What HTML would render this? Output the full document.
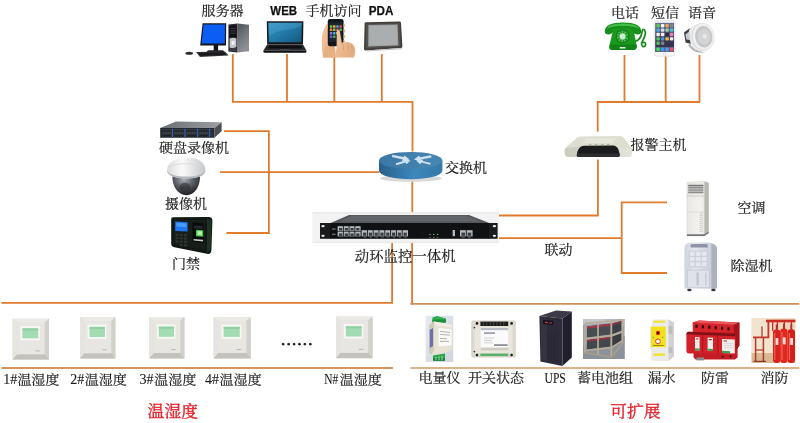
<!DOCTYPE html>
<html lang="zh-CN">
<head>
<meta charset="utf-8">
<title>动环监控系统拓扑图</title>
<style>
html,body{margin:0;padding:0;background:#fff;}
body{width:800px;height:423px;overflow:hidden;position:relative;}
svg{display:block;position:absolute;left:0;top:0;}
.t{font-family:"Liberation Serif","Noto Serif CJK SC",serif;font-size:14px;fill:#1c1c1c;stroke:#1c1c1c;stroke-width:.2px;transform-box:fill-box;transform-origin:50% 100%;transform:scaleY(.925);}
.b{font-family:"Liberation Sans","Noto Sans CJK SC",sans-serif;font-weight:bold;font-size:12.6px;fill:#111;stroke:#111;stroke-width:.25px;}
.r{font-family:"Liberation Serif","Noto Serif CJK SC",serif;font-size:16.8px;fill:#e3202a;stroke:#e3202a;stroke-width:.35px;transform-box:fill-box;transform-origin:50% 100%;transform:scaleY(.95);}
.ln{stroke:#e07b2e;stroke-width:1.8;fill:none;stroke-linejoin:miter;}
.ln2{stroke:#d98a4a;stroke-width:1.6;fill:none;}
</style>
</head>
<body>
<svg width="800" height="423" viewBox="0 0 800 423">
<rect width="800" height="423" fill="#fff"/>

<!-- ===== connection lines ===== -->
<g id="lines" style="filter:blur(.3px)">
<path class="ln" d="M232.800 54V101.800H412.500V151.600"/>
<path class="ln" d="M287 54V101.800"/>
<path class="ln" d="M334.300 48V101.800"/>
<path class="ln" d="M381.800 54V101.800"/>
<path class="ln" d="M412.300 179.600V212.600"/>
<path class="ln" d="M624.5 55V102M665.7 53V102M699.5 55V102"/>
<path class="ln" d="M700 102H597.700V131.400"/>
<path class="ln" d="M597.900 159.600V215.500H498.800"/>
<path class="ln" d="M498.800 238.200H621.700M667 202.400H621.700V273H667"/>
<path class="ln" d="M224 131.100H268.900V233H226.400"/>
<path class="ln" d="M220 172.100H379.400"/>
<path class="ln" d="M392.1 243V302.8H1.4"/>
<path class="ln" d="M412.1 243V304.4"/>
<path d="M410.4 303.8H799.4" stroke="#cd8f58" stroke-width="1.7" fill="none"/>
<path d="M1.4 368H393" stroke="#d9935c" stroke-width="1.8" fill="none"/>
<path d="M410.4 368H799.4" stroke="#cf9862" stroke-width="1.7" fill="none"/>
</g>

<!-- ===== labels ===== -->
<g id="labels" style="filter:blur(.3px)">
<text class="t" x="201.5" y="14.4">服务器</text>
<text class="b" x="270.3" y="14.8" textLength="26.8" lengthAdjust="spacingAndGlyphs">WEB</text>
<text class="t" x="305.5" y="14.4">手机访问</text>
<text class="b" x="368.8" y="14.8" textLength="24.6" lengthAdjust="spacingAndGlyphs">PDA</text>
<text class="t" x="611" y="16.6">电话</text>
<text class="t" x="651" y="16.6">短信</text>
<text class="t" x="688" y="16.6">语音</text>
<text class="t" x="159" y="151.6">硬盘录像机</text>
<text class="t" x="165" y="207.6">摄像机</text>
<text class="t" x="172" y="267.6">门禁</text>
<text class="t" x="445" y="171.6">交换机</text>
<text class="t" x="630.5" y="148.4">报警主机</text>
<text class="t" x="354.8" y="261.1" style="font-size:14.4px">动环监控一体机</text>
<text class="t" x="544.5" y="254.2">联动</text>
<text class="t" x="737.5" y="212.1">空调</text>
<text class="t" x="730.5" y="270.1">除湿机</text>
<text class="t" x="3.2" y="383.9" style="font-size:16px;stroke-width:.12px" textLength="14" lengthAdjust="spacingAndGlyphs">1#</text><text class="t" x="17.4" y="383.5">温湿度</text>
<text class="t" x="70.2" y="383.9" style="font-size:16px;stroke-width:.12px" textLength="14" lengthAdjust="spacingAndGlyphs">2#</text><text class="t" x="84.8" y="383.5">温湿度</text>
<text class="t" x="139.4" y="383.9" style="font-size:16px;stroke-width:.12px" textLength="14" lengthAdjust="spacingAndGlyphs">3#</text><text class="t" x="154.2" y="383.5">温湿度</text>
<text class="t" x="205" y="383.9" style="font-size:16px;stroke-width:.12px" textLength="14" lengthAdjust="spacingAndGlyphs">4#</text><text class="t" x="219.6" y="383.5">温湿度</text>
<text class="t" x="324.3" y="383.9" style="font-size:16px;stroke-width:.12px" textLength="14" lengthAdjust="spacingAndGlyphs">N#</text><text class="t" x="339.8" y="383.5">温湿度</text>
<text class="t" x="280.4" y="344.7" style="font-size:16.3px;stroke-width:.9px;stroke-linejoin:round">……</text>
<text class="t" x="418.5" y="382.2">电量仪</text>
<text class="t" x="468" y="382.2">开关状态</text>
<text class="t" x="544.6" y="382.6" style="font-size:16.4px;stroke-width:.15px" textLength="21.2" lengthAdjust="spacingAndGlyphs">UPS</text>
<text class="t" x="577" y="382.2">蓄电池组</text>
<text class="t" x="647.5" y="382.2">漏水</text>
<text class="t" x="701" y="382.2">防雷</text>
<text class="t" x="760.5" y="382.2">消防</text>
<text class="r" x="147.6" y="416.8">温湿度</text>
<text class="r" x="610.2" y="416.8">可扩展</text>
</g>

<!-- ===== devices ===== -->
<g id="devices" style="filter:blur(.35px)">

<!-- server PC -->
<g id="pc">
<defs><linearGradient id="twr" x1="0" y1="0" x2=".4" y2="1"><stop offset="0" stop-color="#505258"/><stop offset=".6" stop-color="#787a81"/><stop offset="1" stop-color="#8f9197"/></linearGradient></defs>
<ellipse cx="189.200" cy="53.200" rx="3.800" ry="1.500" fill="#2b2b2e"/>
<path d="M196 52L225 51.400L228.600 55.400L200 57Z" fill="#3a3a3e"/>
<path d="M197.800 52.800L224 52.200L226.400 54.800L200.800 56Z" fill="#1a1a1e"/>
<rect x="213.700" y="45" width="4.400" height="6" fill="#121218"/>
<path d="M208 50.200H223L224.400 52H206.600Z" fill="#26262a"/>
<path d="M202.600 23.200H226.200L226 45.400H200.200Z" fill="#15171d"/>
<path d="M203.600 24.600H225L224.800 43.400H201.600Z" fill="#0b5df4"/>
<path d="M228.400 24.400L237.600 23.600V52.400L228.400 51.600Z" fill="#25272c"/>
<path d="M237.600 23.600L249 24.800V51.200L237.600 52.400Z" fill="url(#twr)"/>
<path d="M229.600 26L236.400 25.400V37L229.600 37.400Z" fill="#0f1013"/>
<path d="M229.600 38.600Q233 37 236.400 38.400V47Q233 48.600 229.600 47.400Z" fill="#c3c6cc"/>
<path d="M229.600 48.200L236.400 48V51.400L229.600 50.800Z" fill="#3c3e45"/>
<path d="M230.400 28.400H235.600M230.400 30.800H235.600M230.400 33.200H235.600" stroke="#54565e" stroke-width=".7"/>
<path d="M231.600 41.400L234.400 40.400V44.400L231.600 45Z" fill="#f2f3f5"/>
</g>

<!-- laptop -->
<g id="laptop">
<defs><linearGradient id="lapscr" x1="0" y1="0" x2="1" y2="1"><stop offset="0" stop-color="#3b97c6"/><stop offset=".5" stop-color="#2279a8"/><stop offset="1" stop-color="#15587f"/></linearGradient></defs>
<path d="M266.800 21.200H303.400L303 44.400H267.200Z" fill="#16171a"/>
<path d="M268.400 22.800H301.800L301.400 42.200H268.800Z" fill="url(#lapscr)"/>
<path d="M268.600 36C279 29 290 31 301.600 25.600V22.800H268.400Z" fill="#52a9d4" opacity=".35"/>
<path d="M267.200 44.400H303L306.400 50.600H263.400Z" fill="#2a2b2f"/>
<path d="M269.400 45.400H300.800L303 48.600H267.400Z" fill="#0d0e10"/>
<path d="M263.400 50.600H306.400V51.800Q306.400 52.800 305 52.800H264.800Q263.400 52.800 263.400 51.800Z" fill="#0e0f11"/>
<rect x="279.600" y="49" width="11" height="1.300" fill="#404146"/>
</g>

<!-- phone in hand -->
<g id="handphone">
<defs><linearGradient id="skin" x1="0" y1="0" x2="1" y2="1"><stop offset="0" stop-color="#f3c9a2"/><stop offset="1" stop-color="#e3a878"/></linearGradient></defs>
<path d="M328.400 22.600C324 27 321.600 34 321.800 42C322 49 322.400 54 323 57.400H336L334.400 45.600L329 41Z" fill="url(#skin)"/>
<path d="M323 57.400C323.200 51 324.600 47 328.400 44.600L335 47.600V57.400Z" fill="#e6b083"/>
<rect x="327.800" y="19" width="15.800" height="27.200" rx="2.300" fill="#15161a"/>
<rect x="329.200" y="22.200" width="13" height="19.600" fill="#1d2630"/>
<g>
<rect x="329.800" y="25.200" width="2.500" height="2.500" rx=".5" fill="#7bc043"/>
<rect x="333" y="25.200" width="2.500" height="2.500" rx=".5" fill="#f0b429"/>
<rect x="336.200" y="25.200" width="2.500" height="2.500" rx=".5" fill="#4aa3df"/>
<rect x="339.400" y="25.200" width="2.500" height="2.500" rx=".5" fill="#d9534f"/>
<rect x="329.800" y="28.600" width="2.500" height="2.500" rx=".5" fill="#f0883e"/>
<rect x="333" y="28.600" width="2.500" height="2.500" rx=".5" fill="#8bc34a"/>
<rect x="336.200" y="28.600" width="2.500" height="2.500" rx=".5" fill="#e04f5f"/>
<rect x="339.400" y="28.600" width="2.500" height="2.500" rx=".5" fill="#5cb85c"/>
<rect x="329.800" y="32" width="2.500" height="2.500" rx=".5" fill="#a06cd5"/>
<rect x="333" y="32" width="2.500" height="2.500" rx=".5" fill="#39b0d8"/>
<rect x="336.200" y="32" width="2.500" height="2.500" rx=".5" fill="#f2c94c"/>
<rect x="329.800" y="35.400" width="2.500" height="2.500" rx=".5" fill="#6a5acd"/>
<rect x="333" y="35.400" width="2.500" height="2.500" rx=".5" fill="#4caf50"/>
</g>
<path d="M343.600 23.600C345.800 24.200 346 26.800 343.600 27.400ZM343.600 29C346 29.600 346.200 32.400 343.600 33ZM343.600 34.600C345.800 35.200 346 38 343.600 38.600ZM343.600 40C345.400 40.400 345.600 42.600 343.600 43Z" fill="#ebb88c"/>
<path d="M327.800 24C325.600 25 325.400 28 327.800 29Z" fill="#ebb88c"/>
<path d="M336.800 30.400C338.400 29.600 339.800 30.400 340 32.200L341.800 42.800C346.600 41 352.600 42.400 354.400 46.200C355.800 49.400 355.400 53.600 353.800 57.400H335.400L336.600 46Z" fill="url(#skin)"/>
<path d="M341.800 42.800C343.400 44.600 344 47.400 343.200 50M346.800 43C348.400 45 348.800 47.800 348 50.600M351 44.400C352.400 46.400 352.600 49 351.800 51.400" stroke="#cf976b" stroke-width=".7" fill="none"/>
</g>

<!-- PDA / tablet -->
<g id="pda">
<path d="M364.600 23.600Q364.600 22.200 366 22.200L399.600 21.600Q401 21.600 401 23L402.400 46.400Q402.400 47.800 401 48L365.400 50.400Q364 50.400 364 49Z" fill="#433f3d"/>
<path d="M366.200 23.800L399.400 23.200L400.600 46.200L365.800 48.600Z" fill="#55514e"/>
<path d="M368.400 25L397.600 24.600L398.400 45.600L368.200 46.600Z" fill="#9fa2a2"/>
<path d="M369.400 26L396.600 25.600L397.200 44.600L369.200 45.400Z" fill="#abaeae"/>
<path d="M366 50.400L401.600 48V49.200L367 51.400Z" fill="#c9c7c5"/>
</g>

<!-- green telephone -->
<g id="tel">
<path d="M635 41.400C640 40 641.600 36 642 31.600C642.400 28.600 644.400 28.600 645.200 31.600C646.400 36 642.600 39.600 641.600 43C641 46 643.600 47.600 645.200 45.600C646.600 43.600 644.600 41.600 643 42.600" stroke="#158a1c" stroke-width="1.700" fill="none" stroke-linecap="round"/>
<path d="M615.600 27H631.400Q633 27 633.400 28.600L636.600 45.600Q637 50 633 50H612.600Q608.800 50 609.400 45.600L613.400 28.600Q613.800 27 615.600 27Z" fill="#1c981f"/>
<path d="M610 44.600H636.400L636.800 46.600Q637 50 633 50H612.600Q608.800 50 609.400 46.600Z" fill="#118216"/>
<path d="M604.800 31.600C604.800 25.600 611 22.600 623 22.600C635 22.600 641.200 25.600 641.200 31.600C641.200 34 639.400 34.600 636.800 34.400C633.600 34 632.800 32 632.600 29.600C628.600 28.200 617.400 28.200 613.400 29.600C613.200 32 612.400 34 609.200 34.400C606.600 34.600 604.800 34 604.800 31.600Z" fill="#17901b"/>
<path d="M607 28.400C609 24.800 615 23.800 623 23.800C631 23.800 637 24.800 639.200 28.400C635 26.400 629 26 623 26C617 26 611 26.400 607 28.400Z" fill="#45bd49"/>
<circle cx="622.600" cy="36.400" r="7" fill="#0f7a14"/>
<circle cx="622.600" cy="36.400" r="5.800" fill="#5cc063"/>
<circle cx="622.600" cy="36.400" r="4.600" fill="none" stroke="#1b8f22" stroke-width="2.200" stroke-dasharray="1.500 1.200"/>
<circle cx="622.600" cy="36.400" r="2.800" fill="#cfe9d2"/>
<rect x="619.600" y="47" width="6" height="1.600" rx=".6" fill="#e2f3e3"/>
</g>

<!-- iPhone -->
<g id="iphone">
<defs><linearGradient id="ipscr" x1="0" y1="0" x2="0" y2="1"><stop offset="0" stop-color="#6d7396"/><stop offset=".55" stop-color="#3d3a58"/><stop offset="1" stop-color="#2b2a40"/></linearGradient></defs>
<rect x="654.200" y="20.600" width="20.800" height="35.600" rx="3" fill="#f7f7f7" stroke="#dcdcdc" stroke-width=".7"/>
<rect x="655.200" y="22.800" width="18.800" height="29" fill="url(#ipscr)"/>
<g>
<rect x="656.400" y="24" width="3.400" height="3.400" rx=".8" fill="#5ac85a"/><rect x="660.900" y="24" width="3.400" height="3.400" rx=".8" fill="#f4f4f4"/><rect x="665.400" y="24" width="3.400" height="3.400" rx=".8" fill="#e9a94b"/><rect x="669.900" y="24" width="3.400" height="3.400" rx=".8" fill="#7d8290"/>
<rect x="656.400" y="28.400" width="3.400" height="3.400" rx=".8" fill="#4aa8e8"/><rect x="660.900" y="28.400" width="3.400" height="3.400" rx=".8" fill="#dcdce2"/><rect x="665.400" y="28.400" width="3.400" height="3.400" rx=".8" fill="#9ad0a0"/><rect x="669.900" y="28.400" width="3.400" height="3.400" rx=".8" fill="#4cc0c8"/>
<rect x="656.400" y="32.800" width="3.400" height="3.400" rx=".8" fill="#f0f0f0"/><rect x="660.900" y="32.800" width="3.400" height="3.400" rx=".8" fill="#f0f0f0"/><rect x="665.400" y="32.800" width="3.400" height="3.400" rx=".8" fill="#2d2d35"/><rect x="669.900" y="32.800" width="3.400" height="3.400" rx=".8" fill="#e87fc0"/>
<rect x="656.400" y="37.200" width="3.400" height="3.400" rx=".8" fill="#56c568"/><rect x="660.900" y="37.200" width="3.400" height="3.400" rx=".8" fill="#4a90e2"/><rect x="665.400" y="37.200" width="3.400" height="3.400" rx=".8" fill="#f5b840"/><rect x="669.900" y="37.200" width="3.400" height="3.400" rx=".8" fill="#f0f0f0"/>
<rect x="656.400" y="41.600" width="3.400" height="3.400" rx=".8" fill="#4fbf5a"/><rect x="660.900" y="41.600" width="3.400" height="3.400" rx=".8" fill="#7a7f8c"/>
<rect x="655.200" y="46.800" width="18.800" height="5" fill="#8087a3" opacity=".5"/>
<rect x="656.400" y="47.600" width="3.400" height="3.400" rx=".8" fill="#4cd964"/><rect x="660.900" y="47.600" width="3.400" height="3.400" rx=".8" fill="#3b99fc"/><rect x="665.400" y="47.600" width="3.400" height="3.400" rx=".8" fill="#4a9ef2"/><rect x="669.900" y="47.600" width="3.400" height="3.400" rx=".8" fill="#f0506e"/>
</g>
<circle cx="664.600" cy="54" r="1.300" fill="#f4f4f4" stroke="#cfcfcf" stroke-width=".5"/>
</g>

<!-- ceiling speaker -->
<g id="speaker">
<path d="M684 32.600L689.400 28.600L693 30L691.400 44L685.600 42.400Z" fill="#3b3e42"/>
<path d="M685.400 34.600L689 31.400L690 40L686.400 39.600Z" fill="#c9ccd0"/>
<path d="M689 30C689 44 692 50 700 52.600L706 50V24L694 25Z" fill="#e9e9e9"/>
<path d="M688 45C692 52 700 54.400 708 51.600C700 53 693 50 690 43.600Z" fill="#b4b5b6"/>
<ellipse cx="703" cy="36.800" rx="11.400" ry="14" fill="#dcdddd" transform="rotate(-8 703 36.800)"/>
<ellipse cx="703.400" cy="36.600" rx="10.600" ry="13.200" fill="#f0f0f0" transform="rotate(-8 703.400 36.600)"/>
<ellipse cx="703.800" cy="36.800" rx="8.600" ry="10.800" fill="#c6c7c8" transform="rotate(-8 703.800 36.800)"/>
<ellipse cx="704" cy="36.800" rx="6.400" ry="8" fill="#d3d4d5" transform="rotate(-8 704 36.800)"/>
<ellipse cx="704.600" cy="36.400" rx="2" ry="2.400" fill="#e9e9ea"/>
</g>

<!-- alarm host -->
<g id="alarm">
<defs><linearGradient id="alg" x1="0" x2="1"><stop offset="0" stop-color="#c9cbbd"/><stop offset=".5" stop-color="#d7d8cb"/><stop offset="1" stop-color="#e3e4da"/></linearGradient></defs>
<path d="M580 136.800L620.400 136.200Q622.600 136.200 624 138L631.600 148.600Q632.400 150 632.200 151.600L631.600 155.400Q631.200 157 629 157H568Q565.400 157 565 154.600L564.600 150.600Q564.600 149 565.600 148L577 138Q578.400 136.800 580 136.800Z" fill="url(#alg)"/>
<path d="M580 136.800L620.400 136.200Q622.600 136.200 624 138L631.600 148.600L612 146L584 146L565.600 148L577 138Q578.400 136.800 580 136.800Z" fill="#dddecf"/>
<path d="M586 138.400L616 138L613 143L584.600 143.200Q583.600 141 586 138.400Z" fill="#e6e7db"/>
<path d="M577.600 151Q579.600 145.800 584.600 145.800L612.600 145.600Q617.200 145.800 618.600 150L619.800 154.600Q620 157 617.600 157H579Q576.400 157 576.800 154.600Z" fill="#1b1c1e"/>
<path d="M578 153.600H619.400L619.800 155Q620 157 617.600 157H579Q576.400 157 576.800 155Z" fill="#2d2e30"/>
<path d="M589 144.400H591.400M595 144.400H597.400M601 144.400H603.400M607 144.400H609.400" stroke="#a3a497" stroke-width=".9"/>
</g>

<!-- switch (router icon) -->
<g id="switch">
<defs>
<linearGradient id="swside" x1="0" x2="1" y1="0" y2="0"><stop offset="0" stop-color="#275f8c"/><stop offset=".55" stop-color="#3d87bb"/><stop offset="1" stop-color="#3479a9"/></linearGradient>
<linearGradient id="swtop" x1="0" x2="1" y1="0" y2="0"><stop offset="0" stop-color="#3b78a5"/><stop offset="1" stop-color="#4787b4"/></linearGradient>
</defs>
<ellipse cx="411" cy="178.400" rx="31" ry="3.400" fill="#d9d9d9"/>
<path d="M379 160.400V170.600A31.700 8.600 0 0 0 442.400 170.600V160.400Z" fill="url(#swside)"/>
<ellipse cx="410.700" cy="160.400" rx="31.700" ry="8.500" fill="url(#swtop)"/>
<g fill="#cfe3ef">
<path d="M392.400 154.800L403.600 157L404.600 155.400L409.600 159.400L401.800 161.200L402.800 159.400L391.800 157Z"/>
<path d="M431 155.200L420 157.200L419 155.600L414 159.600L421.800 161.400L420.800 159.600L431.600 157.400Z"/>
<path d="M396.400 165.200L405.400 162.600L406.400 164.200L410.600 160.400L403.200 159.200L404.200 160.800L395.800 163.200Z"/>
<path d="M430.200 164.800L421.200 162.600L420.200 164.200L416 160.600L423.400 159.400L422.400 161L430.800 163Z"/>
</g>
</g>

<!-- main monitoring host (1U rack device) -->
<g id="host">
<rect x="312.400" y="212.400" width="186.400" height="30.400" fill="#f2f2f2"/>
<rect x="312.400" y="212.400" width="186.400" height="1" fill="#e4e4e4"/>
<rect x="312.400" y="241.800" width="186.400" height="1" fill="#e6e6e6"/>
<path d="M349 215H469L490 223.200H330Z" fill="#54575b"/>
<path d="M352 215.800H466L480 221.600H340Z" fill="#62656a"/>
<rect x="320" y="223" width="10.400" height="15.800" fill="#1a1b1d"/>
<rect x="488.600" y="223" width="9" height="15.800" fill="#1a1b1d"/>
<rect x="330" y="223" width="159" height="15.800" fill="#101113"/>
<ellipse cx="323" cy="226.200" rx="1.700" ry="1.100" fill="#efefef"/><ellipse cx="323" cy="235.800" rx="1.700" ry="1.100" fill="#efefef"/>
<ellipse cx="494.400" cy="226.200" rx="1.700" ry="1.100" fill="#efefef"/><ellipse cx="494.400" cy="235.800" rx="1.700" ry="1.100" fill="#efefef"/>
<g fill="#b4babf">
<rect x="337.600" y="226.200" width="23" height="4.800"/>
<rect x="337.600" y="231.600" width="23" height="4.800"/>
<rect x="361.600" y="230.200" width="46.400" height="6.200"/>
<rect x="460" y="230.200" width="12.600" height="6.200"/>
<rect x="452.600" y="230" width="2.400" height="6.200"/>
</g>
<g stroke="#101113" stroke-width=".9">
<path d="M343.350 226V236.600M349.100 226V236.600M354.850 226V236.600"/>
<path d="M367.400 230V236.600M373.200 230V236.600M379 230V236.600M384.800 230V236.600M390.600 230V236.600M396.400 230V236.600M402.200 230V236.600"/>
<path d="M466.300 230V236.600"/>
</g>
<g fill="#3a3f44">
<rect x="339" y="228" width="3.200" height="2.600"/><rect x="344.750" y="228" width="3.200" height="2.600"/><rect x="350.500" y="228" width="3.200" height="2.600"/><rect x="356.250" y="228" width="3.200" height="2.600"/>
<rect x="339" y="233.400" width="3.200" height="2.600"/><rect x="344.750" y="233.400" width="3.200" height="2.600"/><rect x="350.500" y="233.400" width="3.200" height="2.600"/><rect x="356.250" y="233.400" width="3.200" height="2.600"/>
<rect x="363" y="232.600" width="3.200" height="3.200"/><rect x="368.800" y="232.600" width="3.200" height="3.200"/><rect x="374.600" y="232.600" width="3.200" height="3.200"/><rect x="380.400" y="232.600" width="3.200" height="3.200"/><rect x="386.200" y="232.600" width="3.200" height="3.200"/><rect x="392" y="232.600" width="3.200" height="3.200"/><rect x="397.800" y="232.600" width="3.200" height="3.200"/><rect x="403.600" y="232.600" width="3.200" height="3.200"/>
<rect x="461.400" y="232.600" width="3.600" height="3.200"/><rect x="467.600" y="232.600" width="3.600" height="3.200"/>
</g>
<circle cx="430" cy="234.400" r=".7" fill="#6ccf7a"/><circle cx="433.800" cy="234.400" r=".7" fill="#6ccf7a"/><circle cx="437.600" cy="234.400" r=".7" fill="#6ccf7a"/>
<circle cx="422" cy="233.400" r=".5" fill="#444"/>
<rect x="332" y="228.600" width="3.600" height=".9" fill="#9a9a9a"/><rect x="332" y="233.800" width="3.600" height=".9" fill="#9a9a9a"/>
<path d="M364 237.600H366M369.800 237.600H371.800M375.600 237.600H377.600M381.400 237.600H383.400M387.200 237.600H389.200M393 237.600H395M398.800 237.600H400.800M404.600 237.600H406.600M461.600 237.600H464.600M467.800 237.600H470.800M429 237.400H431M432.800 237.400H434.800M436.600 237.400H438.600" stroke="#7d7d7d" stroke-width=".6"/>
</g>

<!-- DVR -->
<g id="dvr">
<defs><linearGradient id="dvrtop" x1="0" y1="0" x2="1" y2="0"><stop offset="0" stop-color="#6c6f73"/><stop offset="1" stop-color="#9b9ea2"/></linearGradient></defs>
<path d="M176 121.600L221.600 122.200L214.400 128.200L160.200 128Z" fill="url(#dvrtop)"/>
<path d="M160.200 128H214.400V137.800H160.200Z" fill="#24272d"/>
<path d="M214.400 128.200L221.600 122.200V131.200L214.400 137.800Z" fill="#4a4d52"/>
<path d="M161.400 129.600H213.400" stroke="#3a3e46" stroke-width="1"/>
<path d="M161.400 131.600H213.400V136.600H161.400Z" fill="#2d3138"/>
<path d="M172.400 128.800V137.200M185 128.800V137.200M197.600 128.800V137.200M209.600 128.800V137.200" stroke="#2c64c4" stroke-width="1.100"/>
<path d="M163 133H171M174.400 133H183.600M187 133H196.200M199.600 133H208" stroke="#484c56" stroke-width="1.600" stroke-dasharray="1.400 1"/>
<path d="M163 135.600H171M174.400 135.600H183.600M187 135.600H196.200M199.600 135.600H208" stroke="#1c1f24" stroke-width="1"/>
</g>

<!-- dome camera -->
<g id="cam">
<defs>
<radialGradient id="camlens" cx=".42" cy=".25" r=".75"><stop offset="0" stop-color="#adafb5"/><stop offset=".45" stop-color="#5c5e66"/><stop offset="1" stop-color="#1d1d22"/></radialGradient>
<linearGradient id="camtop" x1="0" x2="1"><stop offset="0" stop-color="#dcdcde"/><stop offset=".4" stop-color="#fafafa"/><stop offset="1" stop-color="#c6c7ca"/></linearGradient>
</defs>
<path d="M172.400 174.600C171.600 186 177.600 195.200 186.400 195.200C195.200 195.200 200.600 186 200 174.600Z" fill="url(#camlens)"/>
<path d="M167 170.600C167 166 169.600 163.400 171.600 162C174.600 159 180 157.600 186.400 157.600C193 157.600 198.400 159 201.200 162C203.200 163.400 205.400 166 205.400 170.600C205.400 175.600 197.600 178.600 186.400 178.600C175.200 178.600 167 175.600 167 170.600Z" fill="url(#camtop)"/>
<path d="M167 170.600C167 175.600 175.200 178.600 186.400 178.600C197.600 178.600 205.400 175.600 205.400 170.600C203.600 174.600 196 176.600 186.400 176.600C176.800 176.600 169 174.600 167 170.600Z" fill="#b6b7bb"/>
<path d="M169 167C173 164.600 179 163.600 186.400 163.600C193.800 163.600 199.600 164.600 203.600 167" stroke="#d6d7d9" stroke-width=".8" fill="none"/>
<ellipse cx="185" cy="187.600" rx="5.400" ry="4.800" fill="#2a2a2f" opacity=".55"/>
</g>

<!-- door access terminal -->
<g id="door">
<path d="M173 217.200L208.600 217Q212.400 217.200 212.400 221L211.400 250Q211.200 254.600 207 253.800L174.400 247.200Q171.200 246.600 171.200 243.400L171.200 219Q171.200 217.200 173 217.200Z" fill="#111713"/>
<path d="M207 218.400L211.600 220.400L210.600 250L206.800 252.800Z" fill="#1c3326"/>
<path d="M173.400 219.200L205 219.800V250L173.400 244.400Z" fill="#171d19"/>
<path d="M175.2 221.6L187.6 222.2V231.6L175.2 231Z" fill="#1e78ee"/>
<path d="M176.4 222.8L186.4 223.4V227L176.4 226.4Z" fill="#4a9bff"/>
<path d="M192.6 222.6L203.4 223.2V243L192.6 241.6Z" fill="#070908"/>
<path d="M196 229.8L203.2 230.2V236.8L196 236.2Z" fill="#35c84a"/>
<path d="M197.4 231L202 231.2V235.4L197.4 235.2Z" fill="#b4f0a0"/>
<path d="M194 225.4L202.6 225.8V228.8L194 228.4Z" fill="#25292a"/>
<path d="M193.6 239L203 239.8V241.4L193.600 240.6Z" fill="#c8cccb"/>
<g fill="#2d3431">
<rect x="175.6" y="233.600" width="3" height="2.200"/><rect x="179.800" y="233.800" width="3" height="2.200"/><rect x="184" y="234" width="3" height="2.200"/>
<rect x="175.6" y="237" width="3" height="2.200"/><rect x="179.800" y="237.200" width="3" height="2.200"/><rect x="184" y="237.400" width="3" height="2.200"/>
<rect x="175.6" y="240.400" width="3" height="2.200"/><rect x="179.800" y="240.600" width="3" height="2.200"/><rect x="184" y="240.800" width="3" height="2.200"/>
<rect x="179.800" y="244" width="3" height="2.200"/><rect x="184" y="244.200" width="3" height="2.200"/>
</g>
</g>

<!-- floor-standing air conditioner -->
<g id="ac">
<defs><linearGradient id="acg" x1="0" x2="1"><stop offset="0" stop-color="#e9e8e4"/><stop offset=".6" stop-color="#f3f2ef"/><stop offset="1" stop-color="#e2e1dd"/></linearGradient></defs>
<path d="M687 182.400L704.400 181.400L708.600 183V233L704.400 236H687Z" fill="url(#acg)" stroke="#c9c8c4" stroke-width=".5"/>
<path d="M704.400 181.400L708.600 183V233L704.400 236Z" fill="#b9b8b4"/>
<rect x="688.200" y="183.800" width="15.200" height="10.200" fill="#cfcecb"/>
<path d="M688.200 185.600H703.400M688.200 187.800H703.400M688.200 190H703.400M688.200 192.200H703.400" stroke="#77787a" stroke-width="1.100"/>
<path d="M687 196H704.400" stroke="#bdbcb8" stroke-width=".7"/>
<path d="M687 212H704.400" stroke="#d2d1cd" stroke-width=".6"/>
<path d="M702 213V232M700.200 213V232" stroke="#aeada9" stroke-width=".7" stroke-dasharray="1.200 .800"/>
<path d="M687 234.200H704.400L708.600 231.600V233L704.400 236H687Z" fill="#77767a"/>
</g>

<!-- dehumidifier -->
<g id="dehum">
<defs><linearGradient id="dhg" x1="0" x2="1"><stop offset="0" stop-color="#cfd3dd"/><stop offset=".3" stop-color="#e6e8ee"/><stop offset=".8" stop-color="#cdd1db"/><stop offset="1" stop-color="#b4b8c5"/></linearGradient></defs>
<path d="M684.400 249Q684.400 243 690.400 242.600H707.600Q717 243 717 249V286.600Q717 288.800 714.600 288.800H686.800Q684.400 288.800 684.400 286.600Z" fill="url(#dhg)"/>
<path d="M711.400 244V288.800H714.600Q717 288.800 717 286.600V249Q717 245 711.400 244Z" fill="#aeb2c0"/>
<path d="M690.400 245.400Q690.800 244 693 244H705Q707.600 244 708 245.400L707.600 247.600H690.800Z" fill="#8d93aa"/>
<rect x="688.600" y="250.600" width="19.400" height="17" fill="#cbcfd9"/>
<g fill="#e6e8ee">
<rect x="689.800" y="251.800" width="4.800" height="4"/><rect x="695.800" y="251.800" width="4.800" height="4"/><rect x="701.800" y="251.800" width="4.800" height="4"/>
<rect x="689.800" y="257" width="4.800" height="4"/><rect x="695.800" y="257" width="4.800" height="4"/><rect x="701.800" y="257" width="4.800" height="4"/>
<rect x="689.800" y="262.200" width="4.800" height="4"/><rect x="695.800" y="262.200" width="4.800" height="4"/><rect x="701.800" y="262.200" width="4.800" height="4"/>
</g>
<rect x="687.400" y="270" width="22" height="17.600" rx="1" fill="#dfe2e9" stroke="#b9bdc9" stroke-width=".6"/>
<rect x="696.400" y="272.600" width="2.400" height="13" rx="1" fill="#c2c6d1"/>
<rect x="705" y="272.600" width="1.600" height="13" rx=".8" fill="#c9cdd7"/>
<ellipse cx="689.400" cy="290" rx="2.200" ry="1.300" fill="#35363b"/><ellipse cx="713.400" cy="290" rx="2.200" ry="1.300" fill="#35363b"/>
</g>

<!-- temperature / humidity sensors -->
<g id="sensors">
<g transform="translate(12.6 318.8) scale(1.000 0.995)">
<rect x="0" y="0" width="36.4" height="41" fill="#dedcd8"/>
<path d="M0 0H36.4L32 3.8H4.6Z" fill="#eceae7"/>
<path d="M0 0L4.600 3.800V35.600L0 41Z" fill="#e6e4e0"/>
<path d="M36.400 0L32 3.800V35.600L36.400 41Z" fill="#d2d0cb"/>
<path d="M0 41L4.600 35.600H32L36.400 41Z" fill="#c4c2bd"/>
<rect x="4.600" y="3.800" width="27.400" height="31.800" fill="#e8e6e3"/>
<rect x="7.800" y="7.400" width="19.400" height="14.200" fill="#f7f7f5"/>
<rect x="9.800" y="9.600" width="15.800" height="10" fill="#a3dbb3"/>
<rect x="9.800" y="9.600" width="15.800" height="2" fill="#8fcfa2"/>
<rect x="22.600" y="31.800" width="4.600" height=".9" fill="#b5b3ae"/>
</g>
<g transform="translate(80 317.2) scale(0.973 1.010)">
<rect x="0" y="0" width="36.4" height="41" fill="#dedcd8"/>
<path d="M0 0H36.4L32 3.8H4.6Z" fill="#eceae7"/>
<path d="M0 0L4.600 3.800V35.600L0 41Z" fill="#e6e4e0"/>
<path d="M36.400 0L32 3.800V35.600L36.400 41Z" fill="#d2d0cb"/>
<path d="M0 41L4.600 35.600H32L36.400 41Z" fill="#c4c2bd"/>
<rect x="4.600" y="3.800" width="27.400" height="31.800" fill="#e8e6e3"/>
<rect x="7.800" y="7.400" width="19.400" height="14.200" fill="#f7f7f5"/>
<rect x="9.800" y="9.600" width="15.800" height="10" fill="#a3dbb3"/>
<rect x="9.800" y="9.600" width="15.800" height="2" fill="#8fcfa2"/>
<rect x="22.600" y="31.800" width="4.600" height=".9" fill="#b5b3ae"/>
</g>
<g transform="translate(149.4 317) scale(0.962 1.010)">
<rect x="0" y="0" width="36.4" height="41" fill="#dedcd8"/>
<path d="M0 0H36.4L32 3.8H4.6Z" fill="#eceae7"/>
<path d="M0 0L4.600 3.800V35.600L0 41Z" fill="#e6e4e0"/>
<path d="M36.400 0L32 3.800V35.600L36.400 41Z" fill="#d2d0cb"/>
<path d="M0 41L4.600 35.600H32L36.400 41Z" fill="#c4c2bd"/>
<rect x="4.600" y="3.800" width="27.400" height="31.800" fill="#e8e6e3"/>
<rect x="7.800" y="7.400" width="19.400" height="14.200" fill="#f7f7f5"/>
<rect x="9.800" y="9.600" width="15.800" height="10" fill="#a3dbb3"/>
<rect x="9.800" y="9.600" width="15.800" height="2" fill="#8fcfa2"/>
<rect x="22.600" y="31.800" width="4.600" height=".9" fill="#b5b3ae"/>
</g>
<g transform="translate(213.6 317.2) scale(1.022 1.005)">
<rect x="0" y="0" width="36.4" height="41" fill="#dedcd8"/>
<path d="M0 0H36.4L32 3.8H4.6Z" fill="#eceae7"/>
<path d="M0 0L4.600 3.800V35.600L0 41Z" fill="#e6e4e0"/>
<path d="M36.400 0L32 3.800V35.600L36.400 41Z" fill="#d2d0cb"/>
<path d="M0 41L4.600 35.600H32L36.400 41Z" fill="#c4c2bd"/>
<rect x="4.600" y="3.800" width="27.400" height="31.800" fill="#e8e6e3"/>
<rect x="7.800" y="7.400" width="19.400" height="14.200" fill="#f7f7f5"/>
<rect x="9.800" y="9.600" width="15.800" height="10" fill="#a3dbb3"/>
<rect x="9.800" y="9.600" width="15.800" height="2" fill="#8fcfa2"/>
<rect x="22.600" y="31.800" width="4.600" height=".9" fill="#b5b3ae"/>
</g>
<g transform="translate(336 316.6) scale(1.005 1.015)">
<rect x="0" y="0" width="36.4" height="41" fill="#dedcd8"/>
<path d="M0 0H36.4L32 3.8H4.6Z" fill="#eceae7"/>
<path d="M0 0L4.600 3.800V35.600L0 41Z" fill="#e6e4e0"/>
<path d="M36.400 0L32 3.800V35.600L36.400 41Z" fill="#d2d0cb"/>
<path d="M0 41L4.600 35.600H32L36.400 41Z" fill="#c4c2bd"/>
<rect x="4.600" y="3.800" width="27.400" height="31.800" fill="#e8e6e3"/>
<rect x="7.800" y="7.400" width="19.400" height="14.200" fill="#f7f7f5"/>
<rect x="9.800" y="9.600" width="15.800" height="10" fill="#a3dbb3"/>
<rect x="9.800" y="9.600" width="15.800" height="2" fill="#8fcfa2"/>
<rect x="22.600" y="31.800" width="4.600" height=".9" fill="#b5b3ae"/>
</g>
</g>

<!-- power meter module -->
<g id="meter">
<defs><linearGradient id="mbg" x1="0" y1="0" x2="1" y2="1"><stop offset="0" stop-color="#e6e9f1"/><stop offset="1" stop-color="#cfd4df"/></linearGradient></defs>
<rect x="425.6" y="315.8" width="27.6" height="46.2" fill="url(#mbg)"/>
<path d="M432.4 317.4L437 316L446 318.4V322.6H432.4Z" fill="#2fae4e"/>
<path d="M432.4 319.6H446V322.6H432.4Z" fill="#1f8f3c"/>
<path d="M429 325L434 321.6L450.400 324.400L452.400 327V349L447 352.400L431.400 355L429 352.400Z" fill="#e7e3d3"/>
<path d="M429 325L434 321.600V350L431.400 355L429 352.400Z" fill="#cfcbb9"/>
<path d="M434 321.600L450.400 324.400L452.400 327L436.400 325.400Z" fill="#f2efe4"/>
<path d="M438.600 328L451.600 329.600V345L438.600 346.400Z" fill="#fbfaf6"/>
<path d="M440 331.400L450 332.400M440 334.400L450 335.200M440 338.400L447 338.800M440 341.400L449 341.400" stroke="#8e8f96" stroke-width=".7"/>
<path d="M429.800 330L433 328V346L429.800 348Z" fill="#6b6fb0"/>
<path d="M433 355.600L445 353.600V360.400H433Z" fill="#28a648"/>
<path d="M433 358H445V360.800H433Z" fill="#178536"/>
<path d="M436 356.800V360M439 356.400V360M442 356V360" stroke="#cfeed6" stroke-width=".8"/>
</g>

<!-- switch status module -->
<g id="swmod">
<rect x="471.800" y="321" width="43.400" height="36" rx="1" fill="#dedbcf"/>
<rect x="471.800" y="321" width="43.400" height="36" rx="1" fill="none" stroke="#c4c1b4" stroke-width=".7"/>
<rect x="474.600" y="326.400" width="37.600" height="26.600" fill="#e9e7dd"/>
<rect x="480.400" y="321.600" width="27.800" height="4.400" fill="#1c1d1c"/>
<path d="M483.400 322V325.600M486.800 322V325.600M490.200 322V325.600M493.600 322V325.600M497 322V325.600M500.400 322V325.600M503.800 322V325.600" stroke="#5a5b58" stroke-width=".7"/>
<rect x="480.800" y="328" width="27.400" height="19.400" fill="#fafafa"/>
<rect x="480.800" y="328" width="27.400" height="2.200" fill="#b9bcc4"/>
<rect x="484" y="332.200" width="11" height="1.800" fill="#9fa2ab"/>
<path d="M484 338H494M484 340.400H492M484 342.800H493" stroke="#b9bbc2" stroke-width=".7"/>
<rect x="494" y="344.200" width="13.600" height="1.800" fill="#8d9098"/>
<rect x="480.800" y="347.800" width="27.400" height="2.600" fill="#cfcdc3"/>
<rect x="480.400" y="353.600" width="27.800" height="2.400" fill="#58b36a"/>
<circle cx="477" cy="323.400" r="1.300" fill="#1a1a1a"/><circle cx="511.600" cy="323.400" r="1.300" fill="#1a1a1a"/>
<circle cx="477" cy="355" r="1.300" fill="#1a1a1a"/><circle cx="511.600" cy="355" r="1.300" fill="#1a1a1a"/>
<circle cx="474.400" cy="327.600" r=".9" fill="#333"/><circle cx="474.400" cy="351.600" r=".9" fill="#333"/>
</g>

<!-- UPS tower -->
<g id="ups">
<path d="M539.400 316L556 310.600L571.800 311.600L562.600 318.600Z" fill="#3d3b4a"/>
<path d="M562.600 318.600L571.800 311.600V357.400L562.400 366Z" fill="#211f2b"/>
<path d="M539.400 316L562.600 318.600L562.400 366L540.400 361.400Z" fill="#2d2b39"/>
<path d="M541 318L547 318.600V361.600L541 360.400Z" fill="#353342"/>
<path d="M543 319.800L553.400 320.800V325L543 324.200Z" fill="#17161f"/>
<path d="M545 321.800L548 322V323.200L545 323ZM549.400 322.200L552 322.400V323.600L549.400 323.400Z" fill="#c23a3a"/>
<path d="M548 330V360M551 330.400V360.600M554 330.800V361.400M557 331.200V362" stroke="#262432" stroke-width=".6"/>
</g>

<!-- battery rack -->
<g id="battery">
<rect x="583" y="319" width="41.600" height="40" fill="#9aa0a9"/>
<path d="M583 346L624.600 336V359H583Z" fill="#8c929b"/>
<path d="M583 319H624.600V321.600L583 325Z" fill="#c3c7cd"/>
<path d="M603 319H624.600V326L612 328Z" fill="#b4b9c0"/>
<path d="M587 326.400L610.600 323.400V334.400L587 337.600Z" fill="#474d52"/>
<path d="M587 340L610.600 336.800V346.600L587 349.600Z" fill="#41474c"/>
<path d="M611.600 323.400L621.600 321V330.600L611.600 334.400Z" fill="#3a4045"/>
<path d="M611.600 336.800L621.600 333V341L611.600 346.600Z" fill="#373d42"/>
<path d="M587 326.400L610.600 323.400V325.800L587 328.800Z" fill="#9c3a4c"/>
<path d="M587 340L610.600 336.800V338.800L587 342Z" fill="#8c3546"/>
<path d="M611.600 323.400L621.600 321V323L611.600 325.600Z" fill="#8a3345"/>
<g stroke="#b7ab95" stroke-width="1.700" fill="none" stroke-linejoin="round">
<path d="M585 323.400V352.600M598 322V354.600M611.400 321V357M622.400 319.600V343.600"/>
<path d="M585 323.400L611.400 321L622.400 319.600M585 338.800L611.400 335.600L622.400 331.800M585 350.600L611.400 347.600L622.400 340.600"/>
<path d="M585 352.600L611.400 357L622.400 343.600" stroke="#a89c86"/>
</g>
</g>

<!-- water leak detector -->
<g id="leak">
<path d="M652.600 319.400H668.600L674 322.600V356.600L668.600 361H654Q651 361 651 358.600V349H650V326.600H651.600Z" fill="#ebebeb"/>
<path d="M668.600 319.400L674 322.600V356.600L668.600 361Z" fill="#d2d2d2"/>
<path d="M668.600 326H672.400V334H668.600ZM668.600 347H672.400V353H668.600Z" fill="#bdbdbd"/>
<rect x="651" y="326.600" width="14.800" height="20.600" fill="#f4e11c"/>
<rect x="653.400" y="320.600" width="11.600" height="2.200" fill="#f1e23a"/>
<rect x="653.400" y="353.400" width="11.600" height="2.600" fill="#f1e23a"/>
<circle cx="658" cy="333" r="2.200" fill="#d42a20"/><circle cx="658" cy="333" r="1.100" fill="#2a1210"/>
<circle cx="658" cy="341.400" r="2.400" fill="#fff" stroke="#d8302a" stroke-width=".9"/>
<circle cx="653.400" cy="337.400" r=".7" fill="#5aa83a"/><circle cx="662.800" cy="337.400" r=".7" fill="#5aa83a"/>
<rect x="653" y="345" width="10.600" height=".9" fill="#8a7d10"/>
</g>

<!-- surge protector (lightning) -->
<g id="surge">
<path d="M692.800 322.400L699 320.400L739.400 322.600V345.600L737.600 348V357.600L735 359.600H695.600L693.600 357.600Z" fill="#c41c24"/>
<path d="M692.800 322.400L699 320.400L739.400 322.600L733.600 325Z" fill="#e8555a"/>
<path d="M692.800 322.400L733.600 325V332H692.800Z" fill="#d6242c"/>
<path d="M733.600 325L739.400 322.600V345.600L735.600 351Z" fill="#a3141b"/>
<g fill="#3a0c0e"><rect x="695.400" y="324.600" width="2.200" height="3.200"/><rect x="701.800" y="325.200" width="2.200" height="3.200"/><rect x="708.200" y="325.600" width="2.200" height="3.200"/><rect x="714.600" y="326.200" width="2.200" height="3.200"/><rect x="721" y="326.600" width="2.200" height="3.200"/><rect x="727.400" y="327.200" width="2.200" height="3.200"/></g>
<path d="M686.400 334.400Q686.400 331.800 689 331.800L735.600 333.800V353.600L689 353.400Q686.400 353.400 686.400 350.800Z" fill="#d3212a"/>
<path d="M686.400 334.400Q686.400 331.800 689 331.800L735.600 333.800L735.200 336.200L687.400 334.200Z" fill="#7e1117"/>
<path d="M702.600 333.400V353.400M717.800 334.200V353.600" stroke="#9c141b" stroke-width=".9"/>
<path d="M695 337L699.600 337.200V350.600L695 350.400ZM707.600 337.600L713 337.800V351L707.600 350.800ZM722 339L734.800 339.600V353.400L722 353Z" fill="#f1efec"/>
<path d="M695 348.400L699.600 348.600V350.600L695 350.400ZM707.600 348.800L713 349V351L707.600 350.800ZM722 350.800L730 351.200V353.200L722 353Z" fill="#3f9a4d"/>
<path d="M696 339H698.600M708.800 339.600H711.800M723.600 341H727" stroke="#c2242b" stroke-width="1.200"/>
<path d="M724 343.400H733.600M724 345.400H733.600M724 347.400H733.600" stroke="#c9c9c6" stroke-width=".6"/>
<rect x="696.600" y="357.400" width="7.400" height="3" fill="#868b90"/>
<circle cx="722.600" cy="356.800" r="1" fill="#3a0c0e"/><circle cx="730.600" cy="356.400" r="1" fill="#3a0c0e"/>
</g>

<!-- fire suppression cylinders -->
<g id="fire">
<rect x="751.600" y="318.200" width="43.800" height="44.800" fill="#ecd6bb"/>
<rect x="751.600" y="318.200" width="21" height="36" fill="#f2e3cf"/>
<rect x="751.600" y="353" width="22" height="10" fill="#d6b992"/>
<path d="M766 321H795.400" stroke="#cf2a22" stroke-width="2.600" fill="none"/>
<path d="M768.400 320V337.400H753" stroke="#c8342a" stroke-width="1.800" fill="none"/>
<path d="M772.600 321V331M777.400 322V329M784.400 322V329M791.400 322V329" stroke="#cc2a22" stroke-width="1.300" fill="none"/>
<path d="M762 326.400V337" stroke="#a8584a" stroke-width="1.500"/>
<path d="M755.600 337.400V361M763.400 337.400V361" stroke="#b5382a" stroke-width="1.500"/>
<path d="M755.600 350H763.400" stroke="#b5382a" stroke-width="1.200"/>
<path d="M753.600 361.400H766" stroke="#8a3a2a" stroke-width="1.200"/>
<rect x="773" y="329.600" width="7.400" height="33.400" rx="3.200" fill="#d8221c"/>
<rect x="780.200" y="328.400" width="7.400" height="34.600" rx="3.200" fill="#e3261f"/>
<rect x="787.600" y="329.200" width="7.400" height="33.800" rx="3.200" fill="#d5201a"/>
<path d="M774.800 333V360M782 332V360M789.400 333V360" stroke="#f26a5e" stroke-width="1.100"/>
<rect x="775.600" y="338" width="2.800" height="7" fill="#f3dcd6"/><rect x="782.800" y="337.400" width="2.800" height="7" fill="#f3dcd6"/><rect x="790.200" y="338" width="2.800" height="7" fill="#f3dcd6"/>
<rect x="775.800" y="324.600" width="1.800" height="5.400" fill="#b0302a"/><rect x="783" y="323.600" width="1.800" height="5.400" fill="#b0302a"/><rect x="790.400" y="324.400" width="1.800" height="5.400" fill="#b0302a"/>
</g>
</g>
</svg>
</body>
</html>
